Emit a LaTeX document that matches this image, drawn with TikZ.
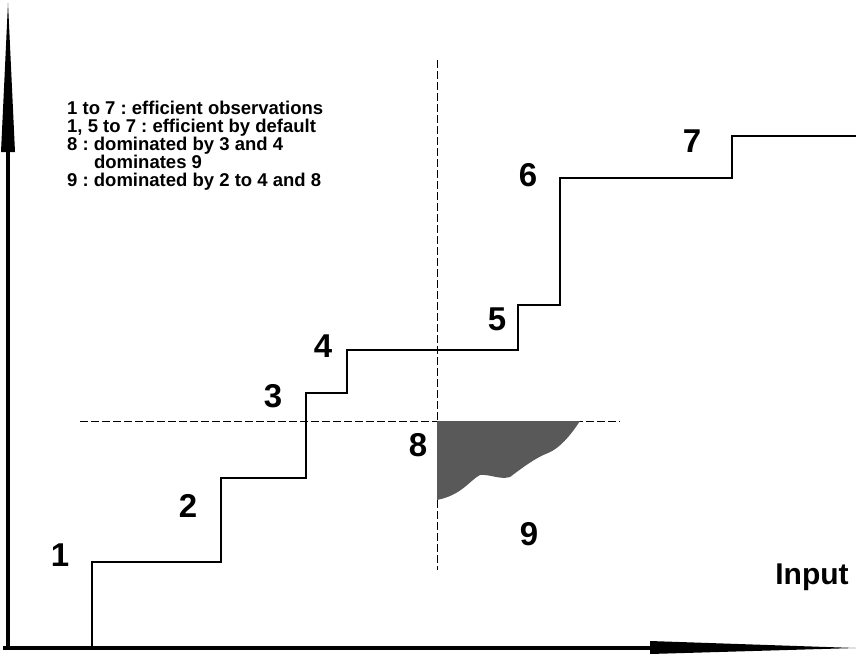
\documentclass[tikz,border=0pt]{standalone}
\usepackage{fontspec}
\setmainfont{Liberation Sans}
\begin{document}
\frenchspacing
\begin{tikzpicture}[x=1pt,y=-1pt,
  lbl/.style={font=\fontsize{33}{35}\selectfont\bfseries, inner sep=0pt},
  legend/.style={font=\fontsize{18.5}{18}\selectfont\bfseries, inner sep=0pt, align=left, anchor=north west},
  stair/.style={line width=1.1pt},
  guide/.style={line width=0.8pt, dash pattern=on 8pt off 3pt}]
\useasboundingbox (0,0) rectangle (856,653);
% axes
\draw[line width=4.5pt] (8,650) -- (8,150);
\fill (1,152) -- (8,3) -- (15,152) -- cycle;
\draw[line width=3.5pt] (3,648) -- (650,648);
\fill (650,641) -- (856,648) -- (650,654) -- cycle;
% guides
\coordinate (hd1) at (80,421);
\coordinate (hd2) at (620,421);
\coordinate (vd1) at (437,60);
\coordinate (vd2) at (437,570);
\draw[guide] (hd1) -- (hd2);
\draw[guide] (vd1) -- (vd2);
% shaded dominated area
\fill[black!65] (437,421) -- (580,421)
  .. controls (570,436) and (560,448) .. (548,453)
  .. controls (535,458) and (522,468) .. (510,477)
  .. controls (500,480) and (490,474) .. (480,475)
  .. controls (470,480) and (462,495) .. (437,500) -- cycle;
% staircase
\coordinate (s0) at (92,648);
\draw[stair] (s0) -- (92,562) -- (221,562) -- (221,478) -- (306,478) -- (306,393)
  -- (347,393) -- (347,350) -- (518,350) -- (518,305) -- (560,305) -- (560,178)
  -- (732,178) -- (732,136) -- (856,136);
% labels
\node[lbl] (n1) at (60,555) {1};
\node[lbl] (n2) at (188,506) {2};
\node[lbl] (n3) at (273,396) {3};
\node[lbl] (n4) at (323,346) {4};
\node[lbl] (n5) at (497,319) {5};
\node[lbl] (n6) at (528,175) {6};
\node[lbl] (n7) at (692,141) {7};
\node[lbl] (n8) at (418,445) {8};
\node[lbl] (n9) at (529,534) {9};
\node[lbl, font=\fontsize{30}{32}\selectfont\bfseries] (inp) at (812,577) {Input};
\node[legend] (leg) at (67,101) {1 to 7 : efficient observations\\
1, 5 to 7 : efficient by default\\
8 : dominated by 3 and 4\\
\hspace{1.45em}dominates 9\\
9 : dominated by 2 to 4 and 8};
\end{tikzpicture}
\end{document}
